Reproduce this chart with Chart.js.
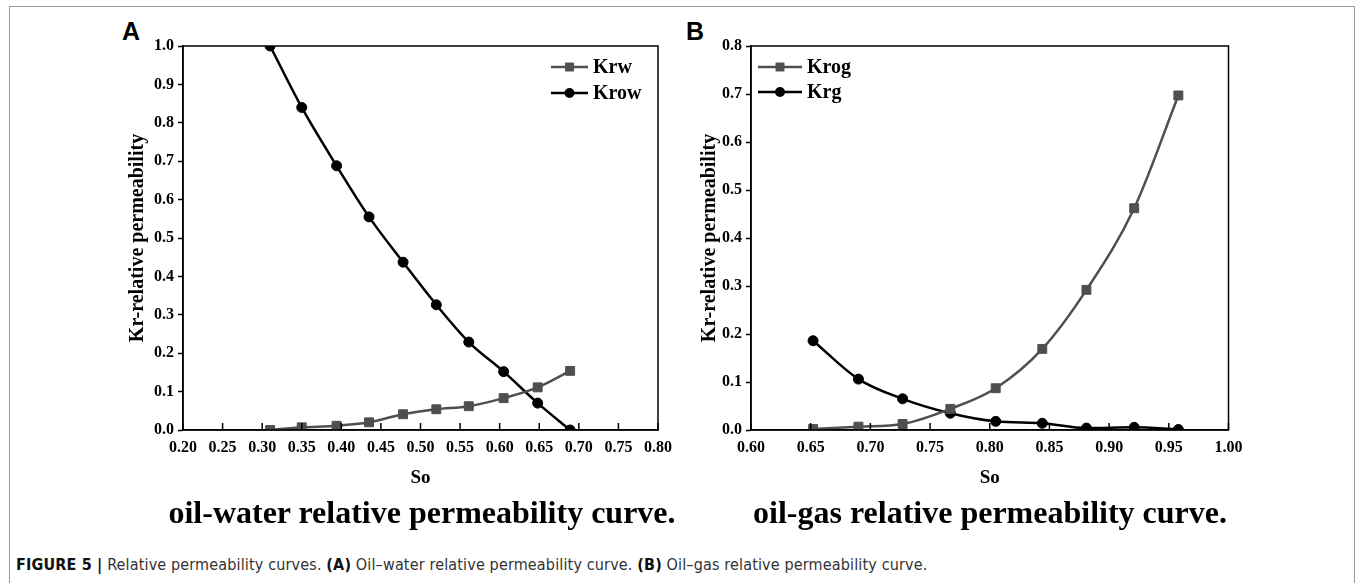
<!DOCTYPE html>
<html>
<head>
<meta charset="utf-8">
<script src="https://cdn.jsdelivr.net/npm/chart.js@4.4.1/dist/chart.umd.min.js"></script>
<style>
  body { margin: 0; background: #fff; width: 1357px; height: 583px; position: relative; overflow: hidden; }
  #frame { position: absolute; left: 9px; top: 6px; width: 1344px; height: 620px; border: 1.5px solid #999; border-bottom: none; }
  .panel { position: absolute; }
  .tag { position: absolute; font: bold 25px "Liberation Sans", Arial, sans-serif; line-height: 1; color: #000; }
  .sub { position: absolute; font: bold 32px "Liberation Serif", "Times New Roman", serif; line-height: 1; white-space: nowrap; transform: translateX(-50%); color: #000; }
  #cap { position: absolute; left: 16px; top: 555px; font: 16px "Liberation Sans Narrow", "DejaVu Sans Condensed", sans-serif; letter-spacing: 0.15px; color: #333; white-space: nowrap; }
  #cap b { color: #111; }
</style>
</head>
<body>
<div id="frame"></div>
<div class="tag" style="left:122px;top:19px">A</div>
<div class="tag" style="left:686px;top:19px">B</div>
<canvas id="chartA" class="panel" width="580" height="470" style="left:100px;top:30px"></canvas>
<canvas id="chartB" class="panel" width="600" height="470" style="left:660px;top:30px"></canvas>
<div class="sub" style="left:422px;top:496px">oil-water relative permeability curve.</div>
<div class="sub" style="left:990px;top:496px">oil-gas relative permeability curve.</div>
<div id="cap"><b>FIGURE 5 |</b> Relative permeability curves. <b>(A)</b> Oil–water relative permeability curve. <b>(B)</b> Oil–gas relative permeability curve.</div>

<script>
// panel A: oil-water
const soA = [0.31, 0.35, 0.394, 0.435, 0.478, 0.52, 0.561, 0.605, 0.648, 0.689];
const krw = [0.0, 0.007, 0.011, 0.02, 0.041, 0.054, 0.062, 0.083, 0.111, 0.154];
const krow = [1.0, 0.84, 0.688, 0.555, 0.437, 0.326, 0.229, 0.152, 0.07, 0.0];

// panel B: oil-gas
const soB = [0.652, 0.69, 0.727, 0.767, 0.805, 0.844, 0.881, 0.921, 0.958];
const krog = [0.002, 0.007, 0.0125, 0.044, 0.087, 0.169, 0.292, 0.462, 0.697];
const krg = [0.186, 0.106, 0.065, 0.035, 0.018, 0.014, 0.004, 0.0056, 0.001];

const GRAY = "#4f4f4f";
const BLACK = "#000";
const SERIF = "'Liberation Serif', 'Times New Roman', serif";

// box around plot, inward x ticks, and a line+marker legend
const frameLegend = {
  id: "frameLegend",
  afterDraw(chart, args, o) {
    const { ctx, chartArea: a, scales: { x } } = chart;
    ctx.save();
    ctx.strokeStyle = "#000";
    ctx.lineWidth = 1.5;
    ctx.strokeRect(a.left, a.top, a.right - a.left, a.bottom - a.top);
    x.ticks.forEach(t => {
      const px = x.getPixelForValue(t.value);
      ctx.beginPath();
      ctx.moveTo(px, a.bottom);
      ctx.lineTo(px, a.bottom - 7);
      ctx.stroke();
    });

    ctx.font = "bold 20px " + SERIF;
    ctx.textBaseline = "middle";
    chart.data.datasets.forEach((ds, i) => {
      const y = a.top + o.top + i * o.gap;
      const x0 = o.right != null ? a.right - o.right : a.left + o.left;
      ctx.strokeStyle = ds.borderColor;
      ctx.lineWidth = ds.borderWidth;
      ctx.beginPath();
      ctx.moveTo(x0, y);
      ctx.lineTo(x0 + o.len, y);
      ctx.stroke();
      ctx.fillStyle = ds.backgroundColor;
      Chart.helpers.drawPoint(ctx, { pointStyle: ds.pointStyle, radius: ds.pointRadius, borderWidth: 0 }, x0 + o.len / 2, y);
      ctx.fillStyle = "#000";
      ctx.fillText(ds.label, x0 + o.len + 5, y + 1);
    });
    ctx.restore();
  }
};

function series(label, xs, ys, color, marker) {
  return {
    label,
    data: xs.map((v, i) => ({ x: v, y: ys[i] })),
    borderColor: color,
    backgroundColor: color,
    pointBorderColor: color,
    borderWidth: 2.5,
    pointStyle: marker,
    pointRadius: marker === "rect" ? 6.3 : 5,
    pointBorderWidth: 1,
    cubicInterpolationMode: "monotone"
  };
}

function panel(id, datasets, xr, ymax, pad, titlePad, legend) {
  return new Chart(document.getElementById(id), {
    type: "line",
    data: { datasets },
    plugins: [frameLegend],
    options: {
      responsive: false,
      animation: false,
      layout: { padding: pad },
      plugins: {
        legend: { display: false },
        tooltip: { enabled: false },
        frameLegend: legend
      },
      scales: {
        x: {
          type: "linear",
          min: xr[0],
          max: xr[1],
          afterFit: s => { s.height = 70; },
          grid: { display: false, drawTicks: false },
          border: { display: true, color: "#000", width: 1.5 },
          ticks: {
            stepSize: 0.05,
            autoSkip: false,
            maxRotation: 0,
            padding: 8,
            color: "#000",
            font: { family: SERIF, size: 16, weight: "bold" },
            callback: v => v.toFixed(2)
          },
          title: {
            display: true,
            text: "So",
            color: "#000",
            padding: { top: 0, bottom: 11 },
            font: { family: SERIF, size: 19, weight: "bold" }
          }
        },
        y: {
          min: 0,
          max: ymax,
          afterFit: s => { s.width = 60; },
          grid: { drawOnChartArea: false, drawTicks: true, tickLength: 5, tickColor: "#000", tickWidth: 1.5 },
          border: { display: true, color: "#000", width: 1.5 },
          ticks: {
            stepSize: 0.1,
            padding: 4,
            color: "#000",
            font: { family: SERIF, size: 16, weight: "bold" },
            callback: v => v.toFixed(1)
          },
          title: {
            display: true,
            text: "Kr-relative permeability",
            color: "#000",
            padding: { top: titlePad, bottom: 0 },
            font: { family: SERIF, size: 20, weight: "bold" }
          }
        }
      }
    }
  });
}

panel("chartA",
  [series("Krw", soA, krw, GRAY, "rect"), series("Krow", soA, krow, BLACK, "circle")],
  [0.2, 0.8], 1.0,
  { left: 23, top: 16, right: 18, bottom: 0 }, 3,
  { right: 107, len: 37, top: 21, gap: 26 });

panel("chartB",
  [series("Krog", soB, krog, GRAY, "rect"), series("Krg", soB, krg, BLACK, "circle")],
  [0.6, 1.0], 0.8,
  { left: 31, top: 16, right: 31.5, bottom: 0 }, 6.5,
  { left: 7, len: 44, top: 21, gap: 25 });
</script>
</body>
</html>
